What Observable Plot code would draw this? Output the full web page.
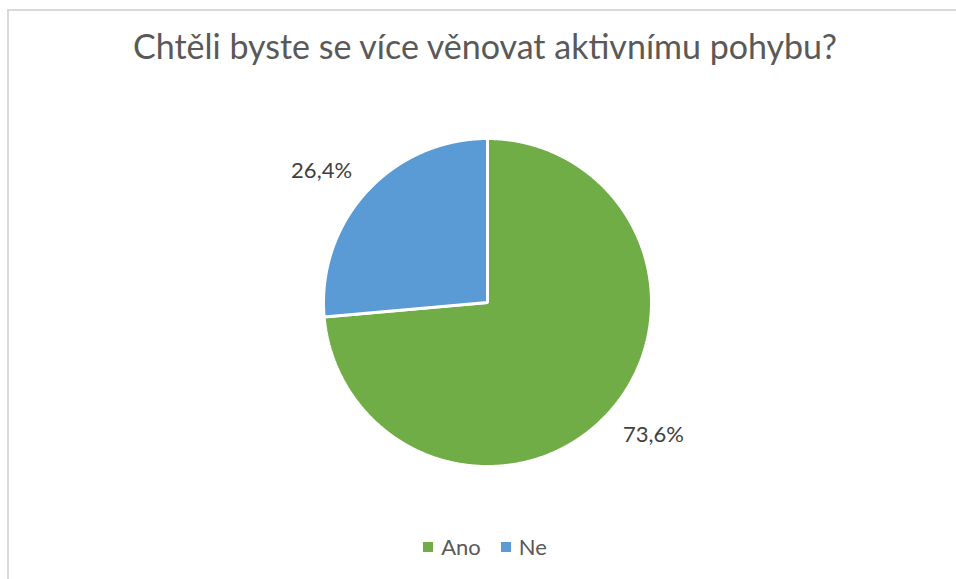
<!DOCTYPE html>
<html>
<head>
<meta charset="utf-8">
<script src="https://cdn.jsdelivr.net/npm/d3@7"></script>
<script src="https://cdn.jsdelivr.net/npm/@observablehq/plot@0.6"></script>
<style>
  html, body { margin: 0; padding: 0; background: #fff; overflow: hidden; }
  #wrap { position: relative; width: 956px; height: 579px; font-family: Lato, "Open Sans", sans-serif; }
  #frame { position: absolute; left: 7px; top: 9px; width: 1000px; height: 700px; border: 2px solid #d9d9d9; box-sizing: border-box; pointer-events: none; }
  #title { height: 100px; box-sizing: border-box; padding-top: 27px; padding-left: 14px; line-height: 38px; font-size: 34px; color: #595959; text-align: center; white-space: nowrap; }
  #chart { height: 400px; }
  #chart svg { display: block; }
  #legend { display: flex; justify-content: center; align-items: center; gap: 0; padding-top: 34px; padding-left: 14px; font-size: 22px; color: #595959; line-height: 26px; }
  .item { display: flex; align-items: center; }
  .sw { width: 10px; height: 10px; margin-right: 8px; }
  .item + .item { margin-left: 20px; }
</style>
</head>
<body>
<div id="wrap">
  <div id="frame"></div>
  <div id="title">Chtěli byste se více věnovat aktivnímu pohybu?</div>
  <div id="chart"></div>
  <div id="legend"></div>
</div>
<script>
const categories = ["Ano", "Ne"];
const values = [73.6, 26.4];
const valueLabels = ["73,6%", "26,4%"];
const colors = ["#70AD47", "#5B9BD5"];

// pie geometry (unit radius, y up, clockwise from 12 o'clock)
const arcs = d3.pie().sort(null).value(d => d)(values);
const polys = [];
arcs.forEach((a, i) => {
  polys.push({cat: categories[i], x: 0, y: 0});
  const steps = Math.max(2, Math.ceil((a.endAngle - a.startAngle) / (Math.PI / 720)));
  for (let k = 0; k <= steps; k++) {
    const t = a.startAngle + (a.endAngle - a.startAngle) * k / steps;
    polys.push({cat: categories[i], x: Math.sin(t), y: Math.cos(t)});
  }
});
const labelR = 1.12;
const labelData = arcs.map((a, i) => {
  const m = (a.startAngle + a.endAngle) / 2;
  return {cat: categories[i], text: valueLabels[i], x: labelR * Math.sin(m), y: labelR * Math.cos(m)};
});

const R = 164;   // pixels per unit
const cx = 487, cyTop = 202, W = 956, H = 400;

const chart = Plot.plot({
  width: W,
  height: H,
  margin: 0,
  x: {domain: [-cx / R, (W - cx) / R], axis: null},
  y: {domain: [-(H - cyTop) / R, cyTop / R], axis: null},
  color: {domain: categories, range: colors},
  style: {fontFamily: "Lato, 'Open Sans', sans-serif", background: "transparent"},
  marks: [
    Plot.line(polys, {x: "x", y: "y", z: "cat", fill: "cat", stroke: "white", strokeWidth: 3, curve: "linear-closed", strokeLinejoin: "miter"}),
    Plot.text(labelData.filter(d => d.x < 0), {x: "x", y: "y", text: "text", fill: "#404040", fontSize: 22, textAnchor: "end", lineAnchor: "bottom"}),
    Plot.text(labelData.filter(d => d.x >= 0), {x: "x", y: "y", text: "text", fill: "#404040", fontSize: 22, textAnchor: "start", lineAnchor: "top"})
  ]
});
document.getElementById("chart").appendChild(chart);

const legend = document.getElementById("legend");
categories.forEach((c, i) => {
  const item = document.createElement("div");
  item.className = "item";
  const sw = document.createElement("span");
  sw.className = "sw";
  sw.style.background = colors[i];
  const lab = document.createElement("span");
  lab.textContent = c;
  item.appendChild(sw);
  item.appendChild(lab);
  legend.appendChild(item);
});
</script>
</body>
</html>
